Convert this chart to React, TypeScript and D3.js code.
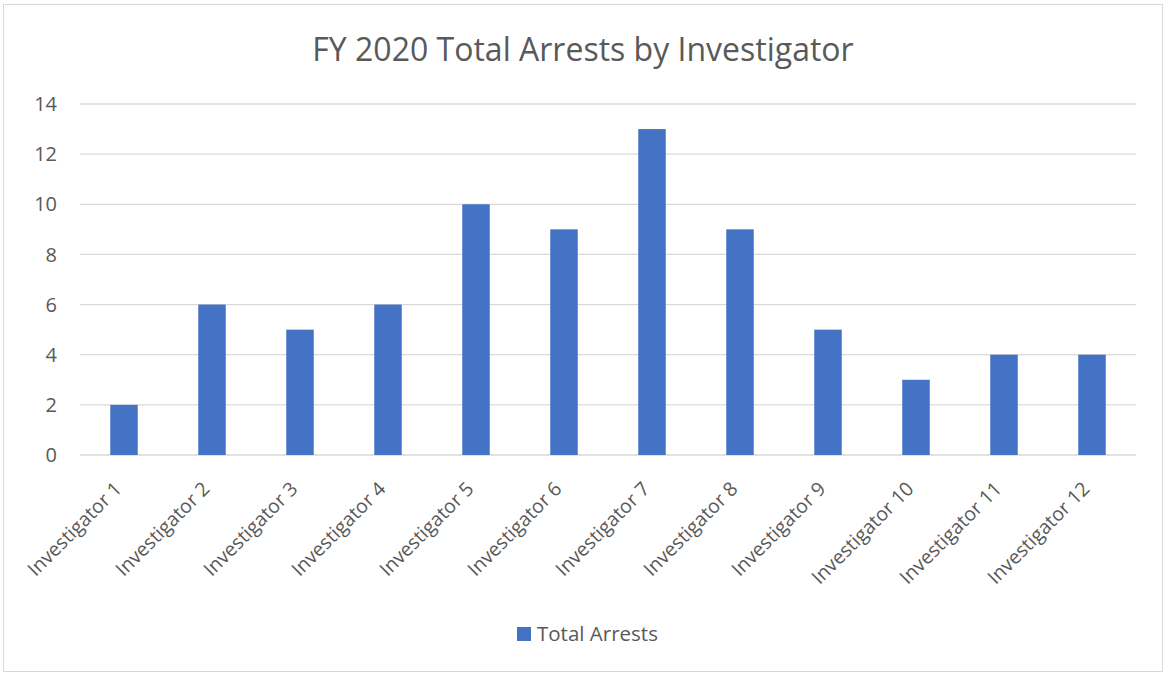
import React from "react";
import * as d3 from "d3";

const categories = [
  "Investigator 1", "Investigator 2", "Investigator 3", "Investigator 4",
  "Investigator 5", "Investigator 6", "Investigator 7", "Investigator 8",
  "Investigator 9", "Investigator 10", "Investigator 11", "Investigator 12",
];
const totalArrests = [2, 6, 5, 6, 10, 9, 13, 9, 5, 3, 4, 4];
const yTicks = [0, 2, 4, 6, 8, 10, 12, 14];
const title = "FY 2020 Total Arrests by Investigator";
const seriesName = "Total Arrests";

const W = 1166;
const H = 673;
const FONT = "'Open Sans', 'Segoe UI', sans-serif";
const TEXT = "#595959";
const GRID = "#d9d9d9";
const BAR = "#4472c4";

export default function App() {
  const left = 80, right = 1136, top = 104, bottom = 455;
  const x = d3.scaleBand<string>().domain(categories).range([left, right]).paddingInner(0).paddingOuter(0);
  const y = d3.scaleLinear().domain([0, 14]).range([bottom, top]);
  const bw = x.bandwidth() * 0.3125;

  return (
    <svg width={W} height={H} style={{ position: "absolute", left: 0, top: 0, fontFamily: FONT }}>
      <rect x={0} y={0} width={W} height={H} fill="#fff" />
      <rect x={3.5} y={4.5} width={1159} height={667} fill="#fff" stroke={GRID} strokeWidth={1} />
      <text x={583} y={61} textAnchor="middle" fontSize={32} fill={TEXT}>{title}</text>
      {yTicks.map((t) => (
        <g key={t}>
          <line x1={left} x2={right} y1={y(t)} y2={y(t)} stroke={GRID} strokeWidth={1.3} />
          <text x={57} y={y(t)} dy="0.36em" textAnchor="end" fontSize={20} fill={TEXT}>{t}</text>
        </g>
      ))}
      {categories.map((c, i) => (
        <rect key={c} x={x(c)! + x.bandwidth() / 2 - bw / 2} y={y(totalArrests[i])}
          width={bw} height={y(0) - y(totalArrests[i])} fill={BAR} />
      ))}
      {categories.map((c) => {
        const cx = x(c)! + x.bandwidth() / 2;
        return (
          <text key={c} transform={`translate(${cx - 1},${490}) rotate(-45)`} textAnchor="end"
            fontSize={19.5} fill={TEXT}>{c}</text>
        );
      })}
      <rect x={517} y={627} width={14} height={14} fill={BAR} />
      <text x={537} y={641} fontSize={20.5} fill={TEXT}>{seriesName}</text>
    </svg>
  );
}
